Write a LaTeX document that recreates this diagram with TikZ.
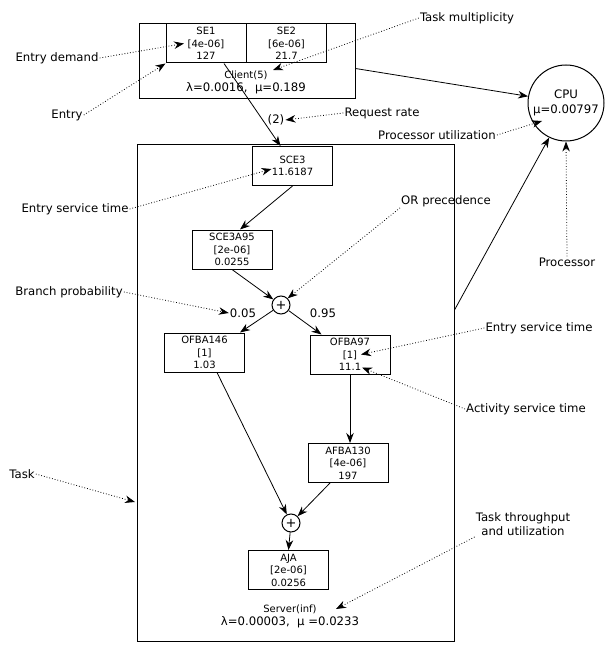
\documentclass[tikz,border=0pt]{standalone}
\usepackage{fontspec}
\setmainfont{DejaVu Sans}
\usetikzlibrary{arrows.meta}

\begin{document}
\begin{tikzpicture}[x=1pt, y=-1pt,
    taskbox/.style={draw, line width=1pt, inner sep=0pt},
    entrybox/.style={draw, line width=1pt, minimum width=80pt, minimum height=39pt,
      inner sep=0pt, align=center, font=\fontsize{10}{12.5}\selectfont},
    gate/.style={circle, draw, line width=1pt, minimum size=18pt, inner sep=0pt,
      font=\fontsize{13}{13}\selectfont},
    small/.style={font=\fontsize{10}{12.5}\selectfont, inner sep=1pt, align=center},
    note/.style={font=\fontsize{11.7}{14.5}\selectfont, inner sep=1pt, align=center},
    flow/.style={-{Stealth[length=10pt,width=7.5pt]}, line width=0.8pt},
    pointer/.style={dotted, -{Stealth[length=10pt,width=7.5pt]}, line width=0.8pt}
    ]
    \useasboundingbox (0,0) rectangle (604,660);

    % client task with its entries
    \node[taskbox, minimum width=216pt, minimum height=75pt] (client) at (247,61.5) {};
    \node[entrybox] (se1) at (206,43.5) {SE1\\{[4e-06]}\\127};
    \node[entrybox] (se2) at (286.5,43.5) {SE2\\{[6e-06]}\\21.7};
    \node[small] (cname) at (246,75) {Client(5)};
    \node[note] (cstat) at (246,88) {λ=0.0016,\ \ μ=0.189};

    % processor
    \node[circle, draw, line width=1pt, minimum size=76pt, inner sep=0pt, align=center,
      font=\fontsize{11.7}{14.5}\selectfont] (cpu) at (566,103) {CPU\\μ=0.00797};

    % server task
    \node[taskbox, minimum width=317pt, minimum height=496pt] (server) at (295.5,393) {};
    \node[entrybox] (sce3) at (292.5,166) {SCE3\\11.6187};
    \node[entrybox] (a95) at (232,249.5) {SCE3A95\\{[2e-06]}\\0.0255};
    \node[gate] (fork) at (281,305) {+};
    \node[note] (p05) at (243,313) {0.05};
    \node[note] (p95) at (323,313) {0.95};
    \node[entrybox] (ofba146) at (204.5,352.5) {OFBA146\\{[1]}\\1.03};
    \node[entrybox] (ofba97) at (350,354.5) {OFBA97\\{[1]}\\11.1};
    \node[entrybox] (afba130) at (348,463) {AFBA130\\{[4e-06]}\\197};
    \node[gate] (join) at (291,523) {+};
    \node[entrybox] (aja) at (288.5,570) {AJA\\{[2e-06]}\\0.0256};
    \node[small] (sname) at (290,609) {Server(inf)};
    \node[note] (sstat) at (290,622) {λ=0.00003,\ \ μ =0.0233};
    \node[note] (two) at (276,120) {(2)};

    % requests and precedence
    \draw[flow] ([xshift=18pt]se1.south) -- ([xshift=-12pt]sce3.north);
    \draw[flow] ([yshift=-7pt]client.east) -- (cpu.170);
    \draw[flow] ([yshift=83pt]server.east) -- (cpu.-116);
    \draw[flow] (sce3.south) -- ([xshift=8pt]a95.north);
    \draw[flow] (a95.south) -- (fork);
    \draw[flow] (fork) -- ([xshift=-5pt]ofba146.north east);
    \draw[flow] (fork) -- ([xshift=12pt]ofba97.north west);
    \draw[flow] ([xshift=12.5pt]ofba146.south) -- (join);
    \draw[flow] (ofba97.south) -- (ofba97.south |- afba130.north);
    \draw[flow] ([xshift=-18pt]afba130.south) -- (join);
    \draw[flow] (join) -- (aja.north);

    % annotations
    \node[note] (tm) at (467,18) {Task multiplicity};
    \node[note] (ed) at (57,58) {Entry demand};
    \node[note] (en) at (67,115) {Entry};
    \node[note] (rr) at (382,113) {Request rate};
    \node[note] (pu) at (437,135) {Processor utilization};
    \node[note] (est1) at (75,209) {Entry service time};
    \node[note] (orp) at (446,201) {OR precedence};
    \node[note] (proc) at (567,262) {Processor};
    \node[note] (bp) at (69,292) {Branch probability};
    \node[note] (est2) at (539,328) {Entry service time};
    \node[note] (ast) at (526,409) {Activity service time};
    \node[note] (tk) at (22,474) {Task};
    \node[note] (tt) at (523,524) {Task throughput\\and utilization};
    \coordinate (mult) at (273,70);
    \coordinate (cpuutil) at (542,121);
    \coordinate (taskedge) at (135,502);
    \coordinate (thr) at (336,609);

    \draw[pointer] (tm.west) -- (mult);
    \draw[pointer] (ed.east) -- ([xshift=-22pt]se1.center);
    \draw[pointer] (en.east) -- (se1.south west);
    \draw[pointer] (rr.west) -- (two.east);
    \draw[pointer] (pu.east) -- (cpuutil);
    \draw[pointer] (est1.east) -- ([xshift=-21pt,yshift=-3pt]sce3.center);
    \draw[pointer] (orp.south west) -- (fork.north east);
    \draw[pointer] (proc.north) -- (cpu.south);
    \draw[pointer] (bp.east) -- (p05.west);
    \draw[pointer] (est2.west) -- ([xshift=11pt]ofba97.center);
    \draw[pointer] (ast.west) -- ([xshift=12pt,yshift=-13pt]ofba97.center);
    \draw[pointer] (tk.east) -- (taskedge);
    \draw[pointer] (tt.south west) -- (thr);
  \end{tikzpicture}
\end{document}
